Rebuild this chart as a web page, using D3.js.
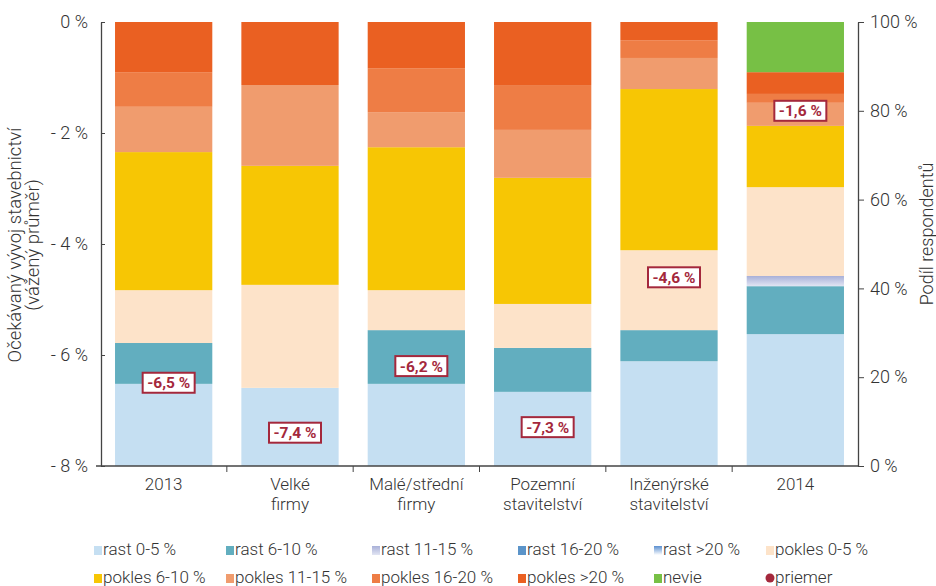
<!DOCTYPE html>
<html>
<head>
<meta charset="utf-8">
<script src="https://cdn.jsdelivr.net/npm/d3@7"></script>
<style>
  body { margin: 0; background: #fff; }
  svg text { font-family: Roboto, "Liberation Sans", sans-serif; fill: #333; }
</style>
</head>
<body>
<svg width="936" height="586"></svg>
<script>
// categories (multi-line labels)
const categories = [["2013"], ["Velké", "firmy"], ["Malé/střední", "firmy"], ["Pozemní", "stavitelství"], ["Inženýrské", "stavitelství"], ["2014"]];

// share of respondents, % (bottom -> top)
const rast05 = [18.5, 17.6, 18.5, 16.7, 23.6, 29.7];
const rast610 = [9.2, 0, 12.1, 9.9, 7.0, 10.8];
const rast1115 = [0, 0, 0, 0, 0, 2.3];
const rast1620 = [0, 0, 0, 0, 0, 0];
const rast20 = [0, 0, 0, 0, 0, 0];
const pokles05 = [11.9, 23.2, 9.0, 9.9, 18.0, 20.0];
const pokles610 = [31.1, 26.8, 32.2, 28.4, 36.3, 13.8];
const pokles1115 = [10.2, 18.2, 7.9, 10.8, 7.0, 5.2];
const pokles1620 = [7.8, 0, 9.9, 10.1, 4.0, 2.0];
const pokles20 = [11.3, 14.2, 10.4, 14.2, 4.1, 4.9];
const nevie = [0, 0, 0, 0, 0, 11.3];

// weighted average, %
const priemer = [-6.5, -7.4, -6.2, -7.3, -4.6, -1.6];

const leftTicks = [0, -2, -4, -6, -8];
const rightTicks = [0, 20, 40, 60, 80, 100];

const series = [
  {key: "rast 0-5 %", vals: rast05, color: "#c5dff2"},
  {key: "rast 6-10 %", vals: rast610, color: "#62aebf"},
  {key: "rast 11-15 %", vals: rast1115, color: "url(#g1115)"},
  {key: "rast 16-20 %", vals: rast1620, color: "#5b94c9"},
  {key: "rast >20 %", vals: rast20, color: "url(#g20)"},
  {key: "pokles 0-5 %", vals: pokles05, color: "#fde3c9"},
  {key: "pokles 6-10 %", vals: pokles610, color: "#f7c604"},
  {key: "pokles 11-15 %", vals: pokles1115, color: "#f09c6e"},
  {key: "pokles 16-20 %", vals: pokles1620, color: "#ee7d45"},
  {key: "pokles >20 %", vals: pokles20, color: "#ea6022"},
  {key: "nevie", vals: nevie, color: "#77c045"}
];
const red = "#a4283c";

const svg = d3.select("svg");
const defs = svg.append("defs");
const g1 = defs.append("linearGradient").attr("id", "g1115").attr("x1", 0).attr("x2", 0).attr("y1", 0).attr("y2", 1);
g1.append("stop").attr("offset", "0%").attr("stop-color", "#a8b0d8");
g1.append("stop").attr("offset", "100%").attr("stop-color", "#e2e5f3");
const g2 = defs.append("linearGradient").attr("id", "g20").attr("x1", 0).attr("x2", 0).attr("y1", 0).attr("y2", 1);
g2.append("stop").attr("offset", "0%").attr("stop-color", "#5b8fd0");
g2.append("stop").attr("offset", "100%").attr("stop-color", "#ffffff");

const mLeft = 101, mRight = 858, mTop = 22, mBottom = 466;

const x = d3.scaleBand().domain(d3.range(categories.length)).range([mLeft, mRight])
  .paddingInner(0.23).paddingOuter(0.111);
const yR = d3.scaleLinear().domain([0, 100]).range([mBottom, mTop]);
const yL = d3.scaleLinear().domain([-8, 0]).range([mBottom, mTop]);

// stacked bars
const rows = categories.map((c, i) => {
  const r = {i: i};
  series.forEach(s => r[s.key] = s.vals[i]);
  return r;
});
const stacked = d3.stack().keys(series.map(s => s.key))(rows);

svg.append("g").selectAll("g").data(stacked).join("g")
  .attr("fill", (d, k) => series[k].color)
  .selectAll("rect").data(d => d.filter(p => p[1] - p[0] > 0)).join("rect")
  .attr("x", d => x(d.data.i))
  .attr("width", x.bandwidth())
  .attr("y", d => yR(d[1]))
  .attr("height", d => yR(d[0]) - yR(d[1]));

// axes
const axisColor = "#444";
const la = svg.append("g").attr("transform", `translate(${mLeft},0)`)
  .call(d3.axisLeft(yL).tickValues(leftTicks).tickSizeInner(5).tickSizeOuter(0).tickPadding(8)
    .tickFormat(d => d + " %"));
la.selectAll(".tick line").attr("x2", 4);
const ra = svg.append("g").attr("transform", `translate(${mRight},0)`)
  .call(d3.axisRight(yR).tickValues(rightTicks).tickSize(6).tickSizeOuter(0).tickPadding(6)
    .tickFormat(d => d + " %"));
[la, ra].forEach(a => {
  a.select(".domain").attr("stroke", axisColor).attr("stroke-width", 1.3);
  a.selectAll(".tick line").attr("stroke", axisColor);
  a.selectAll(".tick text").style("font-size", "18px").style("font-weight", 300).attr("fill", "#333");
});
la.selectAll(".tick text").text(d => String(d).replace("-", "- ") + " %");

// bottom axis
svg.append("line").attr("x1", mLeft - 5).attr("x2", mRight).attr("y1", mBottom).attr("y2", mBottom)
  .attr("stroke", axisColor).attr("stroke-width", 1.3);
const step = x.step();
svg.append("g").selectAll("line").data(d3.range(1, categories.length)).join("line")
  .attr("x1", i => x(i) - (step - x.bandwidth()) / 2)
  .attr("x2", i => x(i) - (step - x.bandwidth()) / 2)
  .attr("y1", mBottom).attr("y2", mBottom + 6)
  .attr("stroke", axisColor);

const cat = svg.append("g").selectAll("text").data(categories).join("text")
  .attr("x", (d, i) => x(i) + x.bandwidth() / 2)
  .attr("y", 490)
  .attr("text-anchor", "middle")
  .style("font-size", "17px").style("font-weight", 300);
cat.selectAll("tspan").data(d => d).join("tspan")
  .attr("x", function() { return this.parentNode.getAttribute("x"); })
  .attr("dy", (d, j) => j === 0 ? 0 : 20)
  .text(d => d);

// axis titles
svg.append("text").attr("transform", "translate(21,245) rotate(-90)")
  .attr("text-anchor", "middle").style("font-size", "18.5px").style("font-weight", 300).text("Očekávaný vývoj stavebnictví");
svg.append("text").attr("transform", "translate(39,245) rotate(-90)")
  .attr("text-anchor", "middle").style("font-size", "18.5px").style("font-weight", 300).text("(vážený průměr)");
svg.append("text").attr("transform", "translate(933,234) rotate(-90)")
  .attr("text-anchor", "middle").style("font-size", "18px").style("font-weight", 300).text("Podíl respondentů");

// average labels
const lab = svg.append("g").selectAll("g").data(priemer).join("g")
  .attr("transform", (d, i) => `translate(${x(i) + x.bandwidth() / 2 + 5},${yL(d)})`);
lab.append("circle").attr("r", 4).attr("fill", red);
lab.append("rect").attr("x", -26).attr("y", -10).attr("width", 52).attr("height", 20)
  .attr("fill", "#fff").attr("stroke", red).attr("stroke-width", 2);
lab.append("text").attr("text-anchor", "middle").attr("dy", "0.36em")
  .style("font-size", "15.5px").style("font-weight", "bold")
  .style("fill", red)
  .text(d => String(d).replace(".", ",") + " %");

// legend
const legendItems = series.map(s => ({key: s.key, color: s.color, dot: false}))
  .concat([{key: "priemer", color: red, dot: true}]);
const colX = [94, 226, 372, 518, 654, 766];
const leg = svg.append("g").selectAll("g").data(legendItems).join("g")
  .attr("transform", (d, i) => `translate(${colX[i % 6]},${i < 6 ? 549 : 577})`);
leg.filter(d => !d.dot).append("rect").attr("x", 0).attr("y", -3).attr("width", 8).attr("height", 9)
  .attr("fill", d => d.color);
leg.filter(d => d.dot).append("circle").attr("cx", 4).attr("cy", 1).attr("r", 4.5).attr("fill", d => d.color);
leg.append("text").attr("x", 9).attr("y", 6).style("font-size", "17px").style("font-weight", 300).text(d => d.key);
</script>
</body>
</html>
